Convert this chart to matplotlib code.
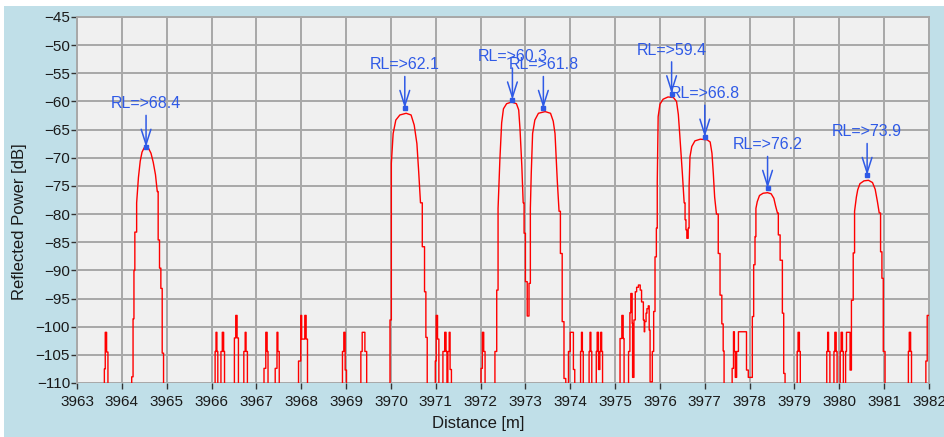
"""Reflected power vs distance trace with RL peak markers."""

import matplotlib

matplotlib.use("Agg")
import matplotlib.pyplot as plt
from matplotlib.patches import Rectangle

FLOOR = -112
STEP_BELOW = -80  # the trace is drawn as steps below this level, as a curve above

# trace vertices (distance [m], level [dB])
trace_points = [
    (3963.00, FLOOR),
    (3963.61, -107.5), (3963.63, -101), (3963.66, -104.5), (3963.69, FLOOR),
    # peak 1
    (3964.22, -108.9), (3964.25, -98.6), (3964.27, -90), (3964.29, -83.2),
    (3964.33, -78), (3964.37, -73.5), (3964.41, -70.6), (3964.45, -69),
    (3964.50, -68.2), (3964.55, -68.1), (3964.60, -68.4), (3964.65, -69.2),
    (3964.70, -70.8), (3964.75, -73), (3964.79, -76), (3964.81, -84.6),
    (3964.84, -89.6), (3964.87, -93.2), (3964.90, -104.7), (3964.93, FLOOR),
    # noise 3966-3969
    (3966.08, -104.4), (3966.10, -101), (3966.12, -104.4), (3966.14, FLOOR),
    (3966.21, -104.4), (3966.24, -101), (3966.27, -104.4), (3966.29, FLOOR),
    (3966.51, -102), (3966.54, -98), (3966.57, -102), (3966.60, FLOOR),
    (3966.72, -104.4), (3966.75, -101), (3966.77, -104.4), (3966.80, FLOOR),
    (3967.17, -107.4), (3967.21, -101), (3967.24, -104.4), (3967.26, FLOOR),
    (3967.42, -107.4), (3967.46, -101), (3967.48, -104.4), (3967.51, FLOOR),
    (3967.94, -106.1), (3967.99, -98), (3968.01, -102.2), (3968.08, -98),
    (3968.11, -102.2), (3968.14, FLOOR),
    (3968.92, -104.4), (3968.95, -101), (3968.98, -107.7), (3969.01, FLOOR),
    (3969.33, -104.4), (3969.36, -101), (3969.42, -104.4), (3969.46, FLOOR),
    # peak 2
    (3969.98, -98.8), (3970.01, -71), (3970.05, -65.7), (3970.11, -63.3),
    (3970.20, -62.4), (3970.34, -62.1), (3970.45, -62.4), (3970.52, -64.2),
    (3970.58, -67.5), (3970.62, -72.5), (3970.66, -78), (3970.70, -85.8),
    (3970.75, -93.8), (3970.78, -101.9), (3970.81, FLOOR),
    # noise 3971-3972
    (3970.99, -106.1), (3971.01, -98), (3971.04, -102.2), (3971.07, FLOOR),
    (3971.16, -104.4), (3971.20, -101), (3971.23, -104.4), (3971.25, FLOOR),
    (3971.27, -104.4), (3971.30, -101), (3971.32, -107.6), (3971.35, FLOOR),
    (3972.01, -107.4), (3972.04, -101), (3972.07, -104.4), (3972.10, FLOOR),
    # peaks 3 and 4
    (3972.32, -104.4), (3972.36, -93.5), (3972.39, -79), (3972.43, -70.4),
    (3972.47, -63.8), (3972.51, -61.3), (3972.58, -60.4), (3972.69, -60.1),
    (3972.80, -60.4), (3972.85, -61.5), (3972.88, -65), (3972.92, -71.5),
    (3972.95, -78), (3972.97, -83.4), (3973.00, -92), (3973.04, -98.1),
    (3973.08, -92.3), (3973.11, -79), (3973.13, -72.8), (3973.16, -65.7),
    (3973.21, -63.3), (3973.29, -62.1), (3973.44, -61.8), (3973.56, -62.1),
    (3973.62, -63.5), (3973.66, -65.7), (3973.71, -74), (3973.75, -79.5),
    (3973.78, -87), (3973.82, -99.1), (3973.86, -109.2), (3973.90, FLOOR),
    # noise 3974
    (3973.96, -104.4), (3974.00, -101), (3974.07, -107.6), (3974.10, FLOOR),
    (3974.23, -104.4), (3974.25, -101), (3974.27, -104.4), (3974.29, FLOOR),
    (3974.42, -104.4), (3974.44, -101), (3974.46, -104.4), (3974.48, FLOOR),
    (3974.58, -104.4), (3974.60, -101), (3974.63, -107.6), (3974.66, -104.4),
    (3974.68, -101), (3974.70, -104.4), (3974.72, FLOOR),
    # 3975 cluster
    (3975.11, -102.1), (3975.15, -98), (3975.18, -102.1), (3975.20, FLOOR),
    (3975.30, -104.4), (3975.33, -97.5), (3975.35, -94.1), (3975.38, -99.4),
    (3975.39, -109), (3975.42, -98.8), (3975.45, -93.8), (3975.48, -93),
    (3975.52, -92.6), (3975.56, -93.5), (3975.59, -95.6), (3975.63, -98.8),
    (3975.65, -100.9), (3975.66, -99.1), (3975.69, -97.6), (3975.71, -96.8),
    (3975.74, -96.3), (3975.76, -100.6), (3975.78, -109.8), (3975.83, -104.4),
    (3975.86, -97.3), (3975.89, -87.6), (3975.92, -82.5), (3975.94, -74.3),
    # peak 5
    (3975.96, -62.7), (3976.00, -60.5), (3976.07, -59.6), (3976.18, -59.2),
    (3976.30, -59.3), (3976.37, -60), (3976.41, -62.3), (3976.44, -65.7),
    (3976.50, -72.8), (3976.54, -78), (3976.56, -81), (3976.58, -82.8),
    (3976.60, -84.3),
    # peak 6
    (3976.63, -82.5), (3976.65, -75), (3976.67, -69.8), (3976.71, -68),
    (3976.78, -67), (3976.90, -66.7), (3977.05, -66.8), (3977.12, -67.2),
    (3977.16, -69.2), (3977.19, -72.8), (3977.22, -77), (3977.26, -80),
    (3977.30, -87), (3977.34, -94.4), (3977.38, -99.5), (3977.41, -104.3),
    (3977.43, FLOOR),
    # noise 3977.6-3978
    (3977.61, -107.4), (3977.64, -100.9), (3977.66, -104.4), (3977.68, -109),
    (3977.71, -104.4), (3977.75, -100.9), (3977.93, -107.7), (3977.97, -109),
    # peak 7
    (3978.06, -98.2), (3978.09, -89), (3978.12, -84), (3978.14, -79),
    (3978.17, -77.8), (3978.22, -76.7), (3978.30, -76.3), (3978.40, -76.2),
    (3978.48, -76.4), (3978.54, -77.2), (3978.58, -78.6), (3978.62, -79.8),
    (3978.64, -83.7), (3978.68, -88.2), (3978.73, -97.6), (3978.76, -108.3),
    (3978.79, FLOOR),
    # noise 3979-3980
    (3979.06, -104.4), (3979.08, -101), (3979.11, -104.4), (3979.13, FLOOR),
    (3979.72, -104.4), (3979.74, -101), (3979.76, -104.4), (3979.79, FLOOR),
    (3979.88, -104.4), (3979.90, -101), (3979.93, -104.4), (3979.95, FLOOR),
    (3980.02, -104.4), (3980.04, -101), (3980.07, -104.4), (3980.09, FLOOR),
    # peak 8
    (3980.14, -104.4), (3980.16, -101), (3980.24, -107.7), (3980.27, -95.3),
    (3980.31, -86.9), (3980.34, -79.5), (3980.38, -77), (3980.41, -75.7),
    (3980.46, -74.6), (3980.55, -74.1), (3980.65, -74), (3980.74, -74.4),
    (3980.80, -75.6), (3980.85, -77.8), (3980.89, -79.8), (3980.92, -86.7),
    (3980.95, -91.4), (3980.98, -104.4), (3981.02, FLOOR),
    # tail
    (3981.54, -104.4), (3981.56, -101), (3981.59, -104.4), (3981.61, FLOOR),
    (3981.93, -106.1), (3981.96, -98), (3982.05, -98),
]

# RL markers
label_dist = [3964.54, 3970.31, 3972.71, 3973.40, 3976.26, 3977.00, 3978.40, 3980.62]
label_tip_db = [-68.1, -61.2, -59.7, -61.2, -58.6, -66.3, -75.4, -73.1]
label_rl = [68.4, 62.1, 60.3, 61.8, 59.4, 66.8, 76.2, 73.9]

x_ticks = list(range(3963, 3983))
y_ticks = list(range(-110, -44, 5))

BG = "#c0dfe8"
BLUE = "#2f5ae6"
FONT = "Liberation Sans"

plt.rcParams["font.family"] = [FONT, "DejaVu Sans"]

# low-level parts of the trace are sampled steps: hold the previous level until the next x
trace_dist, trace_db = [], []
prev = None
for d, v in trace_points:
    if prev is not None and (prev < STEP_BELOW or v < STEP_BELOW):
        trace_dist.append(d)
        trace_db.append(prev)
    trace_dist.append(d)
    trace_db.append(v)
    prev = v

fig = plt.figure(figsize=(9.45, 4.37), dpi=100, facecolor=BG)
# white strips on the top and left edge of the window
fig.patches.append(Rectangle((0, 1 - 6 / 437), 1, 6 / 437, transform=fig.transFigure,
                             facecolor="white", edgecolor="none"))
fig.patches.append(Rectangle((0, 0), 4 / 945, 1, transform=fig.transFigure,
                             facecolor="white", edgecolor="none"))

ax = fig.add_axes([77 / 945, 54 / 437, 852 / 945, 366 / 437])
ax.set_facecolor("#f0f0f0")

ax.plot(trace_dist, trace_db, color="#ff0000", lw=1.0, zorder=3)

for d, tip, rl in zip(label_dist, label_tip_db, label_rl):
    ax.annotate(
        f"RL=>{rl}",
        xy=(d, tip),
        xytext=(0, 28),
        textcoords="offset points",
        ha="center",
        va="baseline",
        fontsize=11.5,
        color=BLUE,
        zorder=5,
        arrowprops=dict(
            arrowstyle="->,head_length=1.1,head_width=0.35",
            color=BLUE,
            lw=1.1,
            shrinkA=1,
            shrinkB=0,
            mutation_scale=10,
        ),
    )
ax.plot(label_dist, label_tip_db, "s", ms=2.5, color=BLUE, zorder=6)

ax.set_xlim(3963, 3982)
ax.set_ylim(-110, -45)
ax.set_xticks(x_ticks)
ax.set_yticks(y_ticks)
ax.grid(True, color="#a8a8a8", lw=1.4, zorder=0)
ax.set_axisbelow(True)

for side in ("left", "top", "right"):
    ax.spines[side].set_color("#a8a8a8")
    ax.spines[side].set_linewidth(1.4)
ax.spines["bottom"].set_visible(False)

ax.tick_params(axis="both", direction="out", length=4, width=1, color="#333333",
               labelsize=11, labelcolor="#1a1a1a")
ax.tick_params(axis="x", pad=5)
ax.tick_params(axis="y", pad=1)

ax.set_xlabel("Distance [m]", fontsize=12, color="#1a1a1a")
ax.set_ylabel("Reflected Power [dB]", fontsize=12, color="#1a1a1a")
ax.xaxis.set_label_coords(0.4707, -0.112)
ax.xaxis.label.set_va("center")
ax.yaxis.set_label_coords(-0.0677, 0.441)
ax.yaxis.label.set_va("center")

fig.savefig("out.png", dpi=100, facecolor=BG)
